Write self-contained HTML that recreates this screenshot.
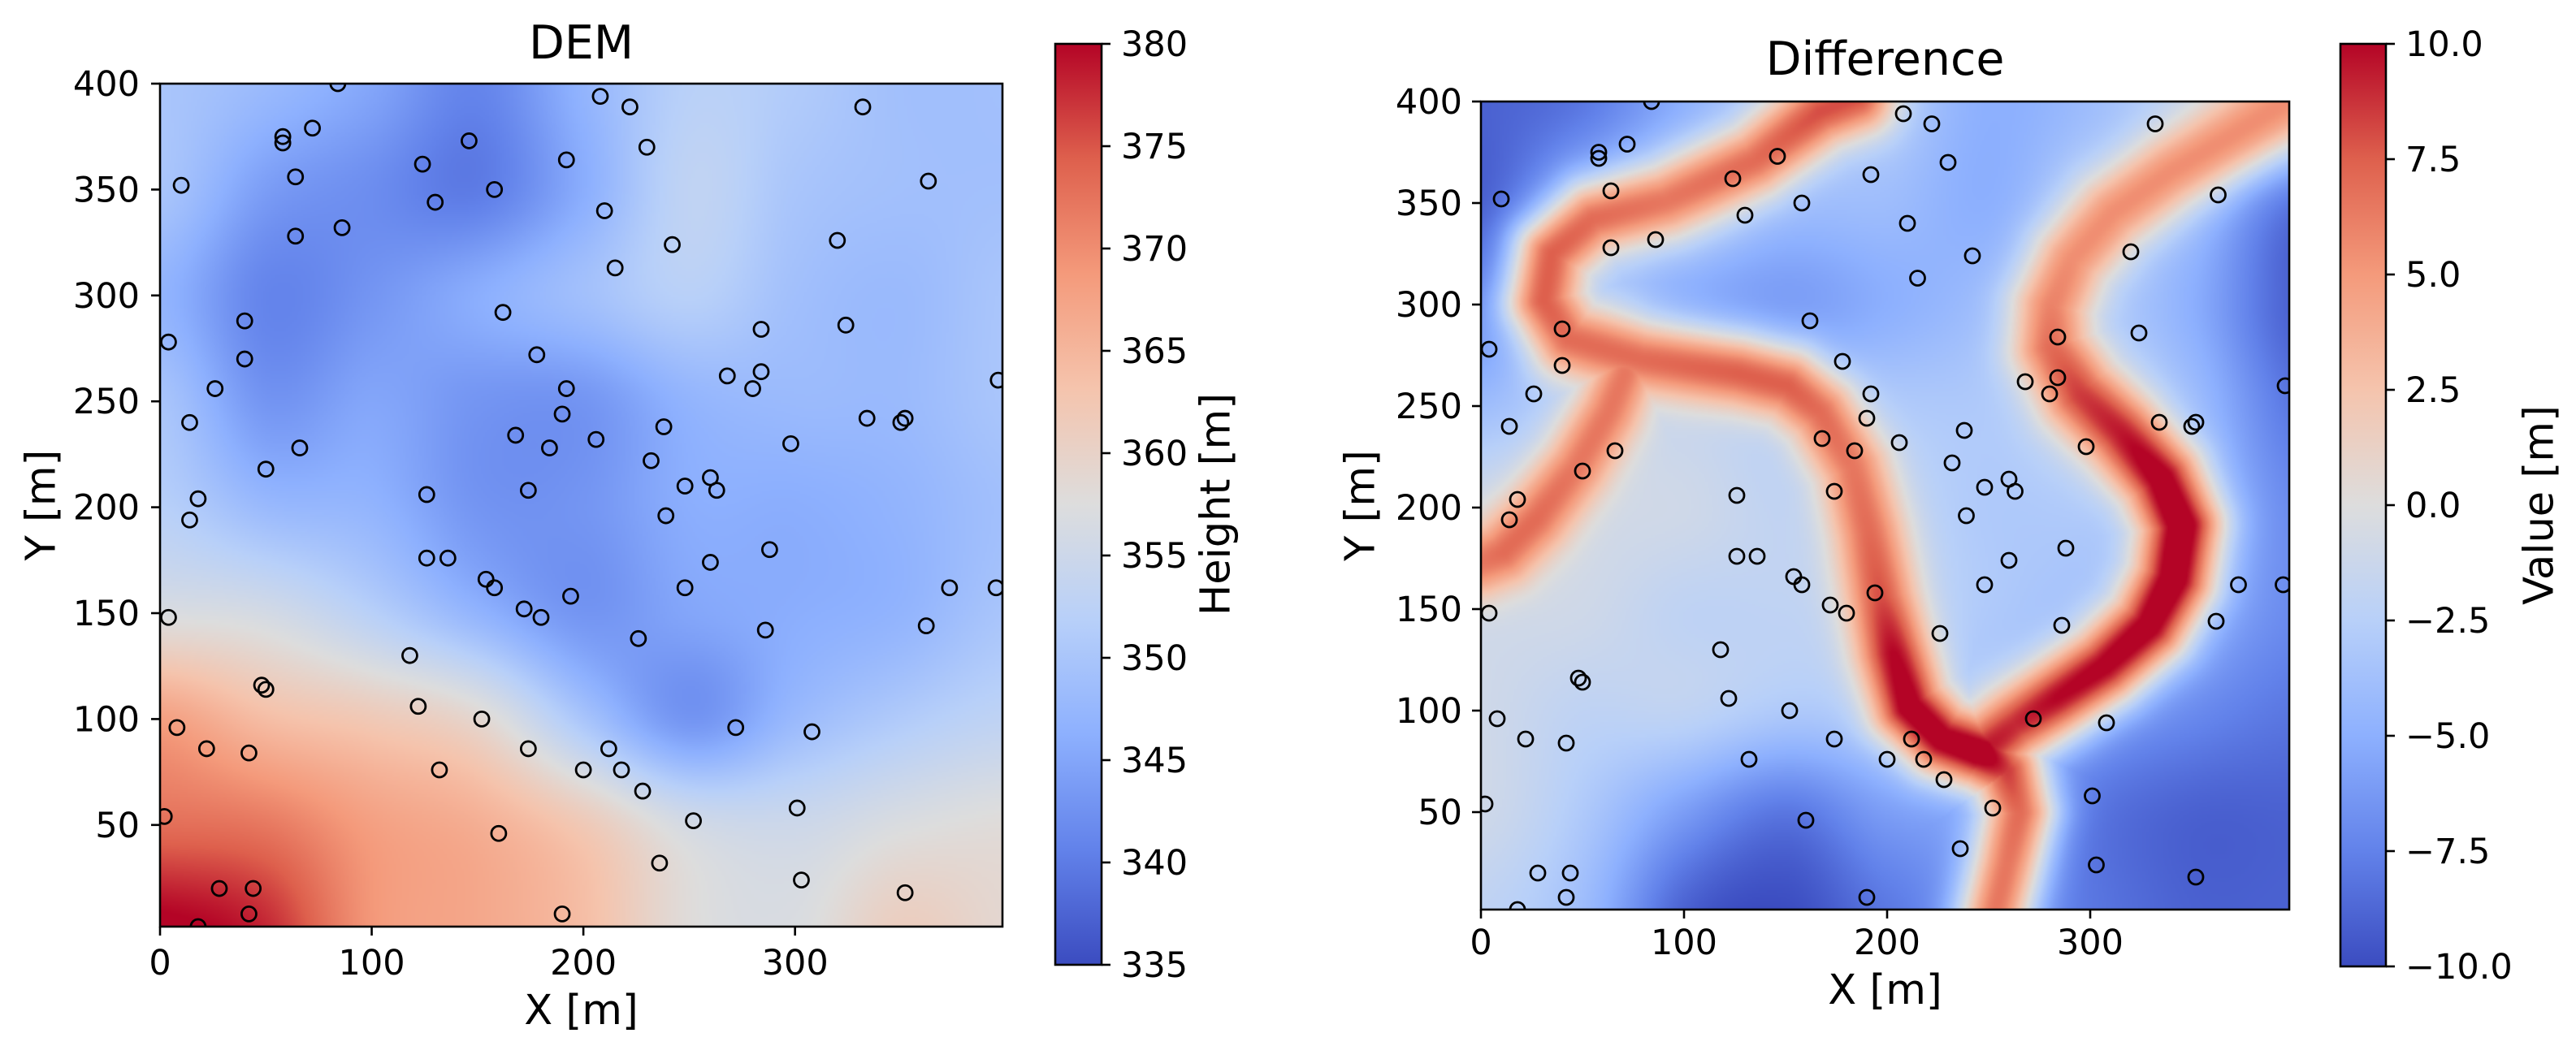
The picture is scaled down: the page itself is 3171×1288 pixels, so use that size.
<!DOCTYPE html>
<html>
<head>
<meta charset="utf-8">
<style>
html,body{margin:0;padding:0;background:#fff;}
#root{position:relative;width:3171px;height:1288px;overflow:hidden;background:#fff;}
canvas{position:absolute;}
svg{position:absolute;left:0;top:0;}
text{font-family:"DejaVu Sans","Liberation Sans",sans-serif;fill:#000;}
</style>
</head>
<body>
<div id="root">
<canvas id="demCanvas" width="398" height="398" style="left:197px;top:103px;width:1037px;height:1038px;"></canvas>
<canvas id="diffCanvas" width="398" height="398" style="left:1823px;top:125px;width:995px;height:995px;"></canvas>
<svg id="overlay" width="3171" height="1288" viewBox="0 0 3171 1288">
<defs>
<linearGradient id="cw" x1="0" y1="1" x2="0" y2="0">
<stop offset="0" stop-color="rgb(59,76,192)"/>
<stop offset="0.125" stop-color="rgb(98,130,234)"/>
<stop offset="0.25" stop-color="rgb(141,176,254)"/>
<stop offset="0.375" stop-color="rgb(184,208,249)"/>
<stop offset="0.5" stop-color="rgb(221,221,221)"/>
<stop offset="0.625" stop-color="rgb(245,196,173)"/>
<stop offset="0.75" stop-color="rgb(244,154,123)"/>
<stop offset="0.875" stop-color="rgb(222,96,77)"/>
<stop offset="1" stop-color="rgb(180,4,38)"/>
</linearGradient>
<clipPath id="clipDem"><rect x="197" y="103" width="1037" height="1038"/></clipPath>
<clipPath id="clipDiff"><rect x="1823" y="125" width="995" height="995"/></clipPath>
</defs>
</svg>
</div>
<script>
// ---------- data ----------
const sampleX = [84,208,222,332,72,58,58,146,230,124,192,10,64,130,158,363,210,64,86,320,242,215,162,40,284,324,4,178,40,268,284,26,192,280,396,14,190,238,334,350,352,168,206,298,66,184,232,50,248,260,263,174,126,18,14,239,288,126,136,260,154,158,248,373,395,194,172,180,4,286,362,226,118,48,50,122,152,8,272,308,22,42,174,212,132,200,218,228,301,252,2,160,236,303,28,44,352,42,190,18];
const sampleY = [400,394,389,389,379,375,372,373,370,362,364,352,356,344,350,354,340,328,332,326,324,313,292,288,284,286,278,272,270,262,264,256,256,256,260,240,244,238,242,240,242,234,232,230,228,228,222,218,210,214,208,208,206,204,194,196,180,176,176,174,166,162,162,162,162,158,152,148,148,142,144,138,130,116,114,106,100,96,96,94,86,84,86,86,76,76,76,66,58,52,54,46,32,24,20,20,18,8,8,2];

// DEM control grid (x = 0..400 step 50, rows from y=400 down to y=0)
const demGridX = [0,50,100,150,200,250,300,350,400];
const demGridY = [400,350,300,250,200,150,100,50,0];
const demRow400 = [350,348,345,341,347,352,351,349,349];
const demRow350 = [350,344,342,340,346,353,350,349,349];
const demRow300 = [347,341,343,346,349,352,349,348,350];
const demRow250 = [350,343,345,343,343,347,348,348,350];
const demRow200 = [352,348,347,343,343,346,346,347,349];
const demRow150 = [357,356,352,347,343,345,346,347,350];
const demRow100 = [368,364,362,359,350,343,348,351,353];
const demRow50  = [373,372,368,366,362,356,355,357,358];
const demRow0   = [381,378,369,367,364,358,357,361,359];
const demValues = [demRow400,demRow350,demRow300,demRow250,demRow200,demRow150,demRow100,demRow50,demRow0];

// Difference background grid
const diffRow400 = [-9,-8,-5,-3,-3,-5,-4,-2,-1];
const diffRow350 = [-9,-5,-3,-4,-4,-5,-3,-4,-8];
const diffRow300 = [-7,-3,-5,-6,-5,-4,-3,-5,-9];
const diffRow250 = [-4,-2,-2,-3,-3,-3,-2,-4,-8];
const diffRow200 = [-1,-1,-1,-2,-2,-3,-3,-4,-7];
const diffRow150 = [-1,-1,-2,-2,-2,-3,-4,-5,-7];
const diffRow100 = [-1,-2,-2,-3,-3,-4,-6,-7,-8];
const diffRow50  = [-1,-3,-6,-8,-6,-6,-8,-9,-9];
const diffRow0   = [-2,-4,-9,-10,-8,-7,-8,-9,-9];
const diffValues = [diffRow400,diffRow350,diffRow300,diffRow250,diffRow200,diffRow150,diffRow100,diffRow50,diffRow0];

// Difference ridges (data coords + peak value)
const ridgeAX = [185,167,135,91,55,35,31,43,79,127,151,167,183,191,197,203,211,227,247,259,265,259,253];
const ridgeAY = [402,395,371,351,342,325,302,283,273,266,260,247,220,188,155,129,102,86,79,70,50,24,0];
const ridgeAV = [8,8,7,6.5,7,7.5,7.5,7,7,7.5,7.5,7,6.5,7,8,10,11,11,11.5,8.5,7,6.5,6.5];
const ridgeBX = [400,371,339,311,291,281,281,295,315,335,345,341,329,307,283,263,251];
const ridgeBY = [402,384,365,345,322,299,279,256,237,214,191,165,142,122,106,93,83];
const ridgeBV = [5.5,5.5,5.5,5.5,5.5,6,7,8.5,9.5,11,11.5,11.5,11,10.5,10,9,9.5];
const ridgeCX = [71,63,47,27,11,0];
const ridgeCY = [266,247,220,194,178,173];
const ridgeCV = [6.5,6.5,6.5,7,7,6.5];

const xTicks = [0,100,200,300];
const yTicks = [50,100,150,200,250,300,350,400];
const demCbTicks = [335,340,345,350,355,360,365,370,375,380];
const diffCbTicks = [-10,-7.5,-5,-2.5,0,2.5,5,7.5,10];

// ---------- helpers ----------
const cmStops = [[59,76,192],[98,130,234],[141,176,254],[184,208,249],[221,221,221],[245,196,173],[244,154,123],[222,96,77],[180,4,38]];
function coolwarm(t){
  t=Math.max(0,Math.min(1,t));
  const p=t*8, i=Math.min(7,Math.floor(p)), f=p-i;
  const a=cmStops[i], b=cmStops[i+1];
  return [a[0]+(b[0]-a[0])*f, a[1]+(b[1]-a[1])*f, a[2]+(b[2]-a[2])*f];
}
function cr(p0,p1,p2,p3,t){
  return 0.5*((2*p1)+(-p0+p2)*t+(2*p0-5*p1+4*p2-p3)*t*t+(-p0+3*p1-3*p2+p3)*t*t*t);
}
function gridSample(vals,x,y){
  const gx=x/50, gy=(400-y)/50;
  const ix=Math.min(7,Math.floor(gx)), iy=Math.min(7,Math.floor(gy));
  const fx=gx-ix, fy=gy-iy;
  const c=(r,cc)=>vals[Math.max(0,Math.min(8,r))][Math.max(0,Math.min(8,cc))];
  const rows=[];
  for(let k=-1;k<=2;k++){
    rows.push(cr(c(iy+k,ix-1),c(iy+k,ix),c(iy+k,ix+1),c(iy+k,ix+2),fx));
  }
  return cr(rows[0],rows[1],rows[2],rows[3],fy);
}
const XMIN=0,XMAX=398,YMIN=2,YMAX=400;

// ---------- DEM raster ----------
(function(){
  const cv=document.getElementById('demCanvas'),ctx=cv.getContext('2d');
  const n=398,img=ctx.createImageData(n,n);
  for(let j=0;j<n;j++){
    const y=YMAX-(j+0.5)*(YMAX-YMIN)/n;
    for(let i=0;i<n;i++){
      const x=XMIN+(i+0.5)*(XMAX-XMIN)/n;
      const v=gridSample(demValues,x,y);
      const c=coolwarm((v-335)/45);
      const k=(j*n+i)*4;
      img.data[k]=c[0];img.data[k+1]=c[1];img.data[k+2]=c[2];img.data[k+3]=255;
    }
  }
  ctx.putImageData(img,0,0);
})();

// ---------- Difference raster ----------
(function(){
  const cv=document.getElementById('diffCanvas'),ctx=cv.getContext('2d');
  const n=398,img=ctx.createImageData(n,n);
  const ridges=[[ridgeAX,ridgeAY,ridgeAV,13],[ridgeBX,ridgeBY,ridgeBV,14],[ridgeCX,ridgeCY,ridgeCV,12]];
  function ridgeInfo(r,x,y){
    const X=r[0],Y=r[1],V=r[2];
    let best=1e9,bv=0;
    for(let s=0;s<X.length-1;s++){
      const ax=X[s],ay=Y[s],bx=X[s+1],by=Y[s+1];
      const dx=bx-ax,dy=by-ay,L=dx*dx+dy*dy;
      let t=L>0?((x-ax)*dx+(y-ay)*dy)/L:0;t=Math.max(0,Math.min(1,t));
      const px=ax+t*dx,py=ay+t*dy,d=(x-px)*(x-px)+(y-py)*(y-py);
      if(d<best){best=d;bv=V[s]+(V[s+1]-V[s])*t;}
    }
    return [best,bv];
  }
  for(let j=0;j<n;j++){
    const y=YMAX-(j+0.5)*(YMAX-YMIN)/n;
    for(let i=0;i<n;i++){
      const x=XMIN+(i+0.5)*(XMAX-XMIN)/n;
      const base=gridSample(diffValues,x,y);
      let v=base;
      for(const r of ridges){
        const [d2,amp]=ridgeInfo(r,x,y);
        const g=Math.exp(-d2/(2*r[3]*r[3]));
        const w=base+(amp-base)*g;
        if(w>v)v=w;
      }
      const c=coolwarm((v+10)/20);
      const k=(j*n+i)*4;
      img.data[k]=c[0];img.data[k+1]=c[1];img.data[k+2]=c[2];img.data[k+3]=255;
    }
  }
  ctx.putImageData(img,0,0);
})();

// ---------- SVG overlay ----------
const svg=document.getElementById('overlay');
const NS='http://www.w3.org/2000/svg';
function mk(tag,attrs,parent){
  const e=document.createElementNS(NS,tag);
  for(const k in attrs)e.setAttribute(k,attrs[k]);
  (parent||svg).appendChild(e);
  return e;
}
function fmt(v,dec){const s=dec?Math.abs(v).toFixed(1):String(Math.abs(v));return (v<0?'\u2212':'')+s;}

const panels=[
  {key:'dem',L:197,T:103,R:1234,B:1141,title:'DEM',titleY:72,xlabY:1261,ylabX:51,tickBase:1200,ytickR:172,clip:'clipDem',
   cb:{L:1299,R:1356,T:54,B:1188,min:335,max:380,ticks:demCbTicks,dec:false,label:'Height [m]',labX:1497}},
  {key:'diff',L:1823,T:125,R:2818,B:1120,title:'Difference',titleY:92,xlabY:1236,ylabX:1675,tickBase:1175,ytickR:1800,clip:'clipDiff',
   cb:{L:2881,R:2937,T:54,B:1190,min:-10,max:10,ticks:diffCbTicks,dec:true,label:'Value [m]',labX:3126}}
];

panels.forEach(p=>{
  const sx=v=>p.L+(v-XMIN)/(XMAX-XMIN)*(p.R-p.L);
  const sy=v=>p.B-(v-YMIN)/(YMAX-YMIN)*(p.B-p.T);
  const g=mk('g',{'clip-path':'url(#'+p.clip+')'});
  
  
  for(let i=0;i<sampleX.length;i++){
    const c=mk('circle',{cx:sx(sampleX[i]),cy:sy(sampleY[i]),r:9,fill:'none',stroke:'#000','stroke-width':2.8},g);
    
    
  }
  const fr=mk('rect',{x:p.L,y:p.T,width:p.R-p.L,height:p.B-p.T,fill:'none',stroke:'#000','stroke-width':2.6});
  
  
  xTicks.forEach(t=>{
    const x=sx(t);
    const l=mk('line',{x1:x,x2:x,y1:p.B,y2:p.B+11,stroke:'#000','stroke-width':2.6});
    
    
    const tx=mk('text',{x:x,y:p.tickBase,'text-anchor':'middle','font-size':43});
    tx.textContent=String(t);
    
    
  });
  yTicks.forEach(t=>{
    const y=sy(t);
    const l=mk('line',{x1:p.L-11,x2:p.L,y1:y,y2:y,stroke:'#000','stroke-width':2.6});
    
    
    const tx=mk('text',{x:p.ytickR,y:y+15,'text-anchor':'end','font-size':43});
    tx.textContent=String(t);
    
    
  });
  const ti=mk('text',{x:(p.L+p.R)/2,y:p.titleY,'text-anchor':'middle','font-size':57});
  ti.textContent=p.title;
  
  
  const xl=mk('text',{x:(p.L+p.R)/2,y:p.xlabY,'text-anchor':'middle','font-size':51});
  xl.textContent='X [m]';
  
  
  const yc=(p.T+p.B)/2;
  const yl=mk('text',{x:p.ylabX,y:yc,'text-anchor':'middle','dominant-baseline':'central','font-size':51,transform:'rotate(-90 '+p.ylabX+' '+yc+')'});
  yl.textContent='Y [m]';
  
  
  const cb=p.cb;
  const cy=v=>cb.B-(v-cb.min)/(cb.max-cb.min)*(cb.B-cb.T);
  const bar=mk('rect',{x:cb.L,y:cb.T,width:cb.R-cb.L,height:cb.B-cb.T,fill:'url(#cw)',stroke:'#000','stroke-width':2.6});
  
  
  cb.ticks.forEach(t=>{
    const y=cy(t);
    const l=mk('line',{x1:cb.R,x2:cb.R+11,y1:y,y2:y,stroke:'#000','stroke-width':2.6});
    
    
    const tx=mk('text',{x:cb.R+24,y:y+15,'text-anchor':'start','font-size':43});
    tx.textContent=fmt(t,cb.dec);
    
    
  });
  const cc=(cb.T+cb.B)/2;
  const cl=mk('text',{x:cb.labX,y:cc,'text-anchor':'middle','dominant-baseline':'central','font-size':51,transform:'rotate(-90 '+cb.labX+' '+cc+')'});
  cl.textContent=cb.label;
  
  
});
</script>
</body>
</html>
